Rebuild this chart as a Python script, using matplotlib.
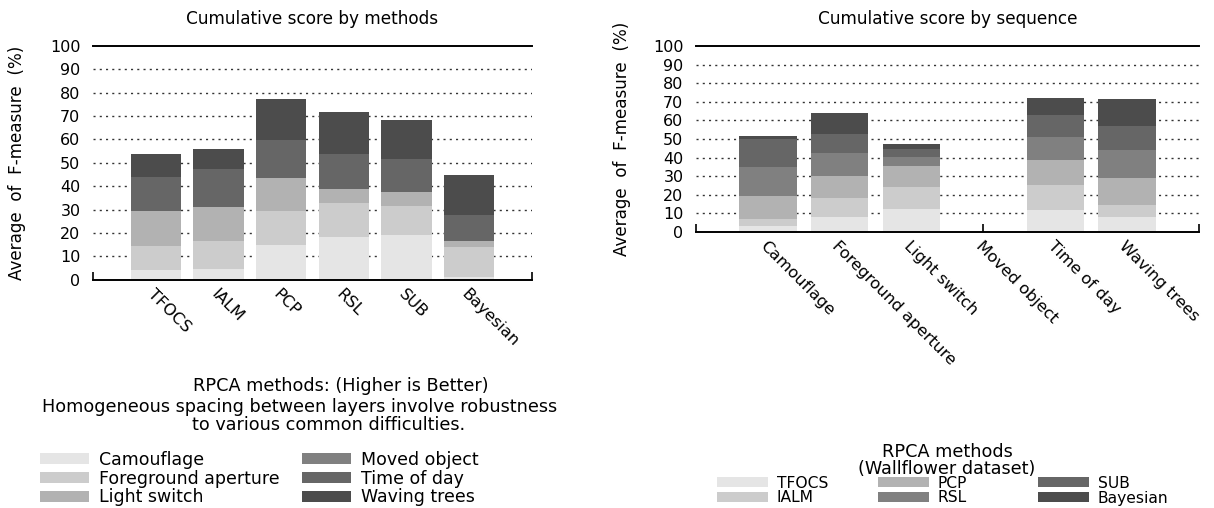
import matplotlib
matplotlib.use("Agg")
import matplotlib.pyplot as plt
from matplotlib.patches import Patch
import numpy as np

plt.rcParams['font.family'] = ['DejaVu Sans']

# ---- data: left chart (stack by sequence, per method)
methods = ['TFOCS', 'IALM', 'PCP', 'RSL', 'SUB', 'Bayesian']
camouflage_m = [4.1, 4.5, 14.8, 18.3, 19.1, 1.1]
foreground_m = [10.3, 12.1, 14.6, 14.6, 12.5, 12.9]
light_m = [15.0, 14.6, 14.2, 6.0, 6.0, 2.6]
moved_m = [0, 0, 0, 0, 0, 0]
time_m = [14.6, 16.3, 16.3, 15.0, 14.2, 11.1]
waving_m = [9.9, 8.5, 17.6, 18.0, 16.7, 17.2]
seq_names = ['Camouflage', 'Foreground aperture', 'Light switch',
             'Moved object', 'Time of day', 'Waving trees']

# ---- data: right chart (stack by method, per sequence)
sequences = ['Camouflage', 'Foreground aperture', 'Light switch',
             'Moved object', 'Time of day', 'Waving trees']
tfocs_s = [3.0, 7.9, 12.2, 0, 11.6, 7.9]
ialm_s = [3.8, 10.1, 11.7, 0, 13.4, 6.4]
pcp_s = [12.3, 11.8, 11.8, 0, 13.4, 14.5]
rsl_s = [15.6, 12.9, 4.8, 0, 12.9, 15.0]
sub_s = [15.5, 10.2, 4.3, 0, 11.7, 13.4]
bayes_s = [1.6, 11.2, 2.7, 0, 9.2, 14.4]

yticks = list(range(0, 101, 10))
colors = ['#e5e5e5', '#cccccc', '#b2b2b2', '#808080', '#666666', '#4c4c4c']
FS = 11.5

fig = plt.figure(figsize=(12.14, 5.08), dpi=100)
axL = fig.add_axes([0.0766, 0.4496, 0.3616, 0.4598])
axR = fig.add_axes([0.5733, 0.5439, 0.4143, 0.3650])


def draw(ax, cats, series, title):
    x = np.arange(len(cats))
    bottom = np.zeros(len(cats))
    for vals, c in zip(series, colors):
        ax.bar(x, vals, 0.8, bottom=bottom, color=c, linewidth=0, zorder=2)
        bottom = bottom + np.array(vals)
    ax.set_xlim(-1, len(cats))
    ax.set_ylim(0, 100)
    ax.set_axisbelow(True)
    ax.set_yticks(yticks)
    ax.set_yticklabels([str(v) for v in yticks], fontsize=FS)
    ax.tick_params(axis='y', length=0, pad=9)
    ax.set_xticks(list(range(-1, len(cats) + 1)))
    ax.set_xticklabels([''] + cats + [''], fontsize=11.7, rotation=-45,
                       ha='left', va='top', rotation_mode='anchor')
    ax.tick_params(axis='x', direction='in', length=5.5, width=1.2,
                   color='black', pad=5)
    for s in ['left', 'right']:
        ax.spines[s].set_visible(False)
    for s in ['top', 'bottom']:
        ax.spines[s].set_linewidth(1.4)
        ax.spines[s].set_color('black')
    for v in yticks[1:-1]:
        ax.axhline(v, color='#333333', lw=1.0, ls=(0, (1.5, 3)), zorder=0.5)
    ax.set_title(title, fontsize=12.2, pad=16)
    ax.set_ylabel('Average  of  F-measure  (%)', fontsize=12.1)


draw(axL, methods, [camouflage_m, foreground_m, light_m, moved_m, time_m, waving_m],
     'Cumulative score by methods')
draw(axR, sequences, [tfocs_s, ialm_s, pcp_s, rsl_s, sub_s, bayes_s],
     'Cumulative score by sequence')
axL.yaxis.set_label_coords(-0.153, 0.5)
axR.yaxis.set_label_coords(-0.129, 0.5)

H = 508.0
W = 1214.0
XFS = 12.7
# x-label texts
fig.text(193 / W, 1 - 386 / H, 'RPCA methods: (Higher is Better)', fontsize=XFS,
         ha='left', va='center')
fig.text(300 / W, 1 - 407 / H,
         'Homogeneous spacing between layers involve robustness', fontsize=XFS,
         ha='center', va='center')
fig.text(192 / W, 1 - 425 / H, 'to various common difficulties.', fontsize=XFS,
         ha='left', va='center')
fig.text(947 / W, 1 - 452 / H, 'RPCA methods', fontsize=XFS, ha='center', va='center')
fig.text(947 / W, 1 - 468.5 / H, '(Wallflower dataset)', fontsize=XFS, ha='center', va='center')


def legend_col(labels, cols, x, ycenter, spacing, fs, hl):
    handles = [Patch(facecolor=c, edgecolor='none') for c in cols]
    fig.legend(handles, labels, loc='center left',
               bbox_to_anchor=(x / W, 1 - ycenter / H), frameon=False,
               fontsize=fs, borderpad=0, borderaxespad=0, handlelength=hl,
               handleheight=0.6, handletextpad=0.6, labelspacing=spacing)


legend_col(seq_names[:3], colors[:3], 40, 478.5, 0.04, 12.5, 2.8)
legend_col(seq_names[3:], colors[3:], 302, 478.5, 0.04, 12.5, 2.8)
meth = methods
legend_col([meth[0], meth[1]], [colors[0], colors[1]], 717, 490.5, 0.0, 11.2, 3.25)
legend_col([meth[2], meth[3]], [colors[2], colors[3]], 878, 490.5, 0.0, 11.2, 3.25)
legend_col([meth[4], meth[5]], [colors[4], colors[5]], 1038, 490.5, 0.0, 11.2, 3.25)

fig.savefig('out.png', dpi=100)
